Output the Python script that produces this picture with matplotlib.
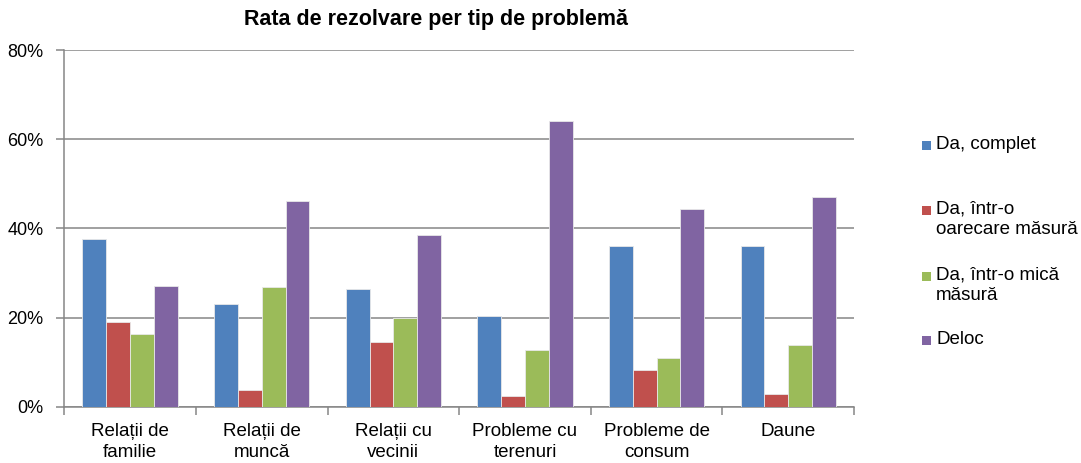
import matplotlib
matplotlib.use('Agg')
import matplotlib.pyplot as plt
from matplotlib.patches import Rectangle
from matplotlib.ticker import FixedLocator, PercentFormatter
import numpy as np

plt.rcParams['font.family'] = ['Liberation Sans', 'DejaVu Sans']

# Data (percent)
categories = ['Relații de\nfamilie', 'Relații de\nmuncă', 'Relații cu\nvecinii',
              'Probleme cu\nterenuri', 'Probleme de\nconsum', 'Daune']
series_names = ['Da, complet', 'Da, într-o\noarecare măsură',
                'Da, într-o mică\nmăsură', 'Deloc']
da_complet = [37.7, 23.0, 26.5, 20.4, 36.0, 36.0]
da_oarecare = [18.9, 3.8, 14.6, 2.5, 8.3, 2.8]
da_mica = [16.2, 26.8, 20.0, 12.8, 11.0, 13.8]
deloc = [27.0, 46.1, 38.6, 64.1, 44.3, 47.1]
colors = ['#4F81BD', '#C0504D', '#9BBB59', '#8064A2']

W, H = 1081, 463
fig = plt.figure(figsize=(W / 100, H / 100), dpi=100)
ax = fig.add_axes([64.3 / W, 1 - 406.7 / H, (854 - 64.3) / W, (406.7 - 50) / H])

all_series = [da_complet, da_oarecare, da_mica, deloc]
x = np.arange(len(categories))
bw = 0.181
for i, (vals, col) in enumerate(zip(all_series, colors)):
    ax.bar(x + (i - 1.5) * bw, vals, width=bw, color=col,
           edgecolor='#e8e8e8', linewidth=0.6, zorder=3)

ax.set_xlim(-0.5, len(categories) - 0.5)
ax.set_ylim(0, 80)
ax.set_yticks([0, 20, 40, 60, 80])
ax.yaxis.set_major_formatter(PercentFormatter(decimals=0))
ax.grid(axis='y', color='#868686', linewidth=1.1, zorder=0)

ax.set_xticks(x)
ax.set_xticklabels(categories, fontsize=13.5, linespacing=1.25)
ax.xaxis.set_minor_locator(FixedLocator(np.arange(-0.5, len(categories), 1.0)))
ax.tick_params(axis='x', which='major', length=0, pad=12)
ax.tick_params(axis='x', which='minor', length=6, color='#868686', width=1.1)
ax.tick_params(axis='y', length=6, color='#868686', width=1.1, labelsize=13, pad=9)

for side in ['top', 'right']:
    ax.spines[side].set_visible(False)
for side in ['left', 'bottom']:
    ax.spines[side].set_color('#868686')
    ax.spines[side].set_linewidth(1.1)

fig.text(436.5 / W, 1 - 20 / H, 'Rata de rezolvare per tip de problemă',
         ha='center', va='center', fontsize=15.5, fontweight='bold')

# legend, drawn by hand to follow the spacing of the reference
entry_tops = [141, 206, 272, 336]
for name, col, top in zip(series_names, colors, entry_tops):
    fig.add_artist(Rectangle((922 / W, 1 - (top + 9) / H), 9 / W, 9 / H,
                             transform=fig.transFigure, facecolor=col,
                             edgecolor='none'))
    fig.text(936 / W, 1 - (top - 5) / H, name, ha='left', va='top',
             fontsize=13.5, linespacing=1.2)

fig.savefig('out.png', dpi=100)
